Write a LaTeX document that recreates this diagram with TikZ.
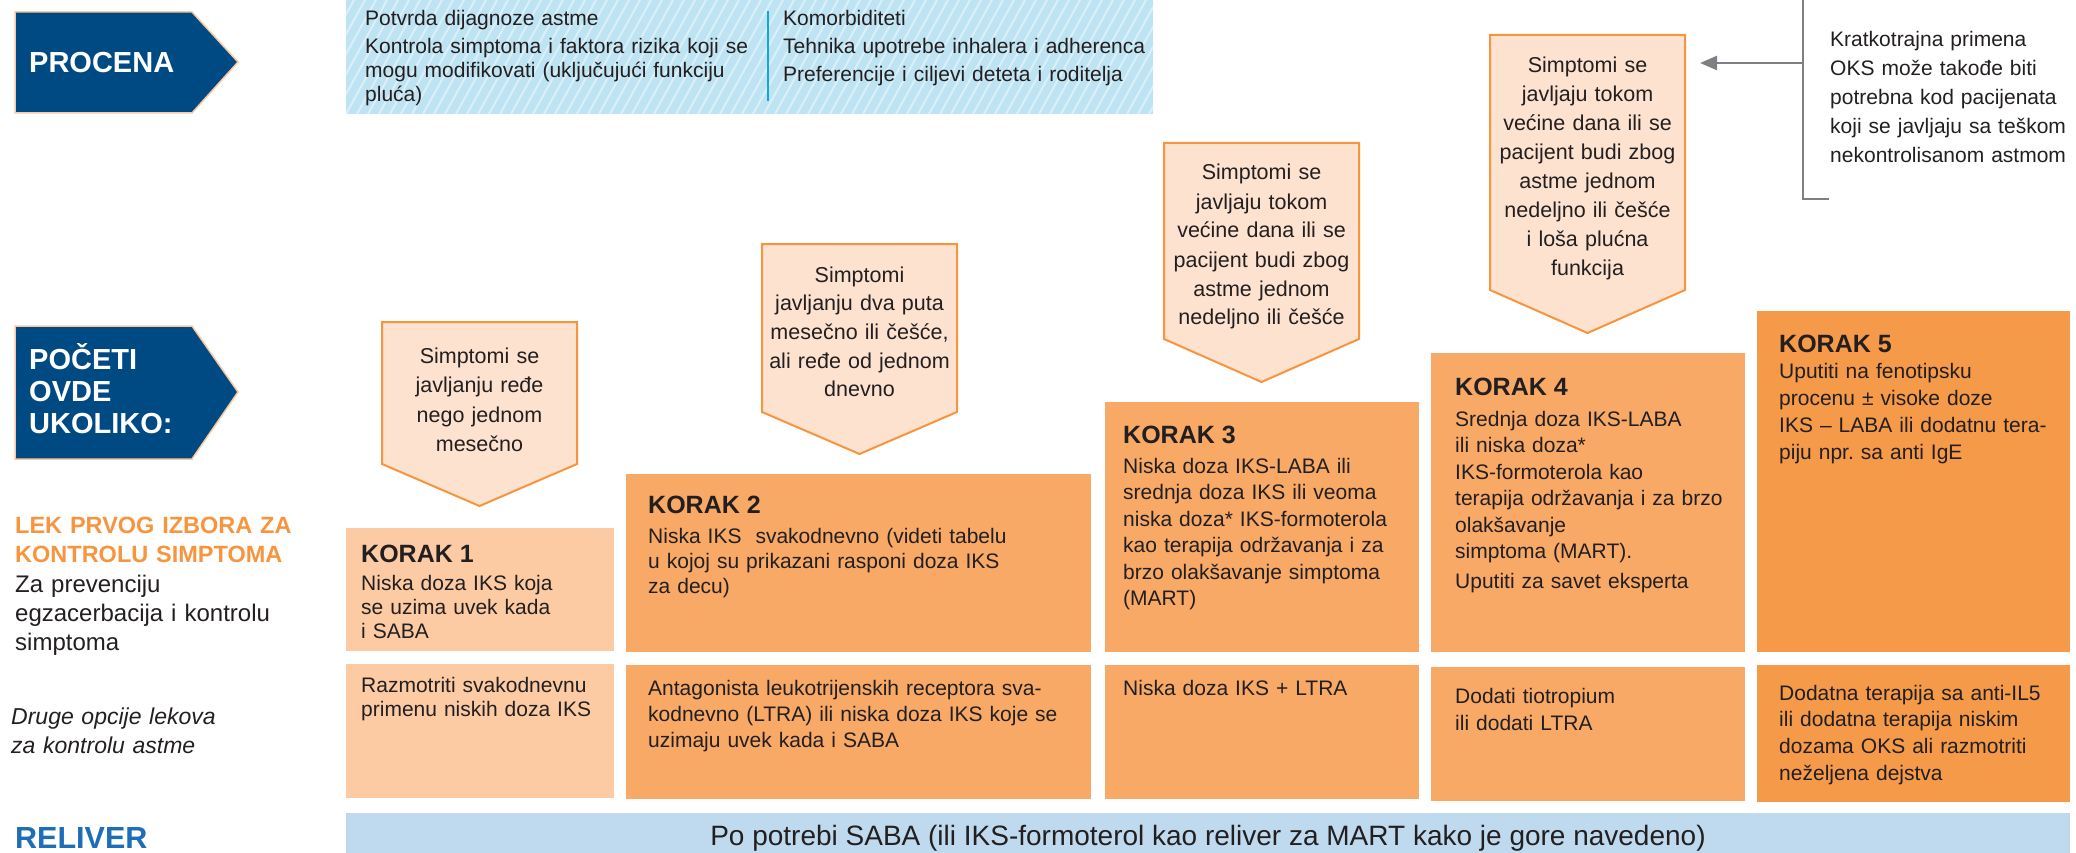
\documentclass[tikz,border=0pt]{standalone}
\usepackage{fontspec}
\setmainfont{Liberation Sans}
\usetikzlibrary{arrows.meta}
\frenchspacing

\definecolor{ink}{HTML}{231F20}
\definecolor{navy}{HTML}{004A84}
\definecolor{navyedge}{HTML}{FBC9A0}
\definecolor{condfill}{HTML}{FDE2D0}
\definecolor{condedge}{HTML}{F7943D}
\definecolor{steplight}{HTML}{FCCBA3}
\definecolor{stepmid}{HTML}{F8A966}
\definecolor{stepdark}{HTML}{F59A48}
\definecolor{assessblue}{HTML}{BEE3F3}
\definecolor{divider}{HTML}{1AA3D8}
\definecolor{relbar}{HTML}{BFDAEF}
\definecolor{relblue}{HTML}{1D6EB6}
\definecolor{lekorange}{HTML}{F7953F}
\definecolor{bracketgray}{HTML}{7E8083}

\newcommand{\stephead}{\fontsize{25}{30}\bfseries\selectfont}

\begin{document}
\begin{tikzpicture}[x=1pt,y=-1pt,
  banner/.style={fill=navy,draw=navyedge,line width=1.5pt,line join=miter},
  bannertxt/.style={anchor=base west,inner sep=0pt,text width=220pt,align=left,
    text=white,font=\fontsize{29}{32}\bfseries\selectfont},
  condbox/.style={fill=condfill,draw=condedge,line width=2pt,line join=miter},
  condtxt/.style={anchor=base,inner sep=0pt,text width=190pt,align=center,
    text=ink,font=\fontsize{21.5}{#1}\selectfont},
  condtxt/.default=29,
  body/.style={anchor=base west,inner sep=0pt,text width=600pt,align=left,
    text=ink,font=\fontsize{21}{#1}\selectfont},
  body/.default=24,
  stripe/.style={white,opacity=0.45,line width=2pt},
  bracketline/.style={draw=bracketgray,line width=2.5pt},
]
\useasboundingbox (0,0) rectangle (2076,853);

% ---------- assessment banner and box ----------
\path[banner] (15,12) -- (192,12) -- (238,62) -- (192,113) -- (15,113) -- cycle;
\node[bannertxt] (procena) at (29,73) {PROCENA};

\fill[assessblue] (346,0) rectangle (1153,114);
\begin{scope}
  \clip (346,0) rectangle (1153,114);
  \foreach \i in {0,...,84} {
    \draw[stripe] ({280+\i*11},114) -- ++(63,-114);
  }
\end{scope}
\draw[divider,line width=2.5pt] (768,11) -- (768,101);
\node[body] (assessL) at (365,26)
  {Potvrda dijagnoze astme\\[4pt]
   Kontrola simptoma i faktora rizika koji se\\
   mogu modifikovati (uključujući funkciju\\
   pluća)};
\node[body=28] (assessR) at (783,26)
  {Komorbiditeti\\
   Tehnika upotrebe inhalera i adherenca\\
   Preferencije i ciljevi deteta i roditelja};

% ---------- start banner ----------
\path[banner] (15,326) -- (192,326) -- (238,392) -- (192,459) -- (15,459) -- cycle;
\node[bannertxt] (poceti) at (29,369.5) {POČETI\\ OVDE\\ UKOLIKO:};

% ---------- symptom criteria ----------
\path[condbox] (382,322) -- (577,322) -- (577,464) -- (479.5,506) -- (382,464) -- cycle;
\node[condtxt=29.5] (cond1) at (479.5,363)
  {Simptomi se\\ javljanju ređe\\ nego jednom\\ mesečno};

\path[condbox] (762,244) -- (957,244) -- (957,412) -- (859.5,454) -- (762,412) -- cycle;
\node[condtxt=28.7] (cond2) at (859.5,282)
  {Simptomi\\ javljanju dva puta\\ mesečno ili češće,\\ ali ređe od jednom\\ dnevno};

\path[condbox] (1164,143) -- (1359,143) -- (1359,339) -- (1261.5,382) -- (1164,339) -- cycle;
\node[condtxt] (cond3) at (1261.5,180)
  {Simptomi se\\ javljaju tokom\\ većine dana ili se\\ pacijent budi zbog\\ astme jednom\\ nedeljno ili češće};

\path[condbox] (1490,35) -- (1685,35) -- (1685,290) -- (1587.5,333) -- (1490,290) -- cycle;
\node[condtxt] (cond4) at (1587.5,73)
  {Simptomi se\\ javljaju tokom\\ većine dana ili se\\ pacijent budi zbog\\ astme jednom\\ nedeljno ili češće\\ i loša plućna\\ funkcija};

% ---------- oral steroid note with bracket ----------
\coordinate (brtop) at (1803,0);
\coordinate (brmid) at (1803,63);
\coordinate (brbot) at (1803,199);
\coordinate (brend) at (1829,199);
\coordinate (cond4tip) at (1700,63);
\draw[bracketline] (brtop) -- (brbot) -- (brend);
\draw[bracketline,-{Triangle[length=17pt,width=14pt]}] (brmid) -- (cond4tip);
\node[body=29] (oksnote) at (1830,47)
  {Kratkotrajna primena\\ OKS može takođe biti\\ potrebna kod pacijenata\\
   koji se javljaju sa teškom\\ nekontrolisanom astmom};

% ---------- treatment steps ----------
\fill[steplight] (346,528) rectangle (614,651);
\fill[stepmid]   (626,474) rectangle (1091,652);
\fill[stepmid]   (1105,402) rectangle (1419,652);
\fill[stepmid]   (1431,353) rectangle (1745,652);
\fill[stepdark]  (1757,311) rectangle (2070,652);

\node[body=24] (step1) at (361,562)
  {{\stephead KORAK 1}\\[4pt]
   Niska doza IKS koja\\ se uzima uvek kada\\ i SABA};
\node[body=25] (step2) at (648,513)
  {{\stephead KORAK 2}\\[5pt]
   Niska IKS\ \ svakodnevno (videti tabelu\\
   u kojoj su prikazani rasponi doza IKS\\ za decu)};
\node[body=26.5] (step3) at (1123,443)
  {{\stephead KORAK 3}\\[3.5pt]
   Niska doza IKS-LABA ili\\ srednja doza IKS ili veoma\\
   niska doza* IKS-formoterola\\ kao terapija održavanja i za\\
   brzo olakšavanje simptoma\\ (MART)};
\node[body=26.5] (step4) at (1455,395)
  {{\stephead KORAK 4}\\[4.5pt]
   Srednja doza IKS-LABA\\ ili niska doza*\\ IKS-formoterola kao\\
   terapija održavanja i za brzo\\ olakšavanje\\ simptoma (MART).\\[3.5pt]
   Uputiti za savet eksperta};
\node[body=27] (step5) at (1779,352)
  {{\stephead KORAK 5}\\[-1pt]
   Uputiti na fenotipsku\\ procenu ± visoke doze\\
   IKS – LABA ili dodatnu tera-\\ piju npr. sa anti IgE};

% ---------- other controller options ----------
\fill[steplight] (346,664) rectangle (614,798);
\fill[stepmid]   (626,665) rectangle (1091,799);
\fill[stepmid]   (1105,665) rectangle (1419,799);
\fill[stepmid]   (1431,667) rectangle (1745,801);
\fill[stepdark]  (1757,665) rectangle (2070,802);

\node[body=24] (alt1) at (361,692)
  {Razmotriti svakodnevnu\\ primenu niskih doza IKS};
\node[body=26] (alt2) at (648,695)
  {Antagonista leukotrijenskih receptora sva-\\
   kodnevno (LTRA) ili niska doza IKS koje se\\ uzimaju uvek kada i SABA};
\node[body] (alt3) at (1123,695) {Niska doza IKS + LTRA};
\node[body=27] (alt4) at (1455,703) {Dodati tiotropium\\ ili dodati LTRA};
\node[body=26.7] (alt5) at (1779,700)
  {Dodatna terapija sa anti-IL5\\ ili dodatna terapija niskim\\
   dozama OKS ali razmotriti\\ neželjena dejstva};

% ---------- reliever ----------
\fill[relbar] (346,813) rectangle (2070,853);
\node[anchor=base,inner sep=0pt,text=ink,font=\fontsize{28}{30}\selectfont] (reliever)
  at (1208,845) {Po potrebi SABA (ili IKS-formoterol kao reliver za MART kako je gore navedeno)};

% ---------- row labels ----------
\node[anchor=base west,inner sep=0pt,text width=400pt,align=left,text=lekorange,
  font=\fontsize{23.5}{29}\bfseries\selectfont] (lek) at (15,533)
  {LEK PRVOG IZBORA ZA\\ KONTROLU SIMPTOMA};
\node[anchor=base west,inner sep=0pt,text width=400pt,align=left,text=ink,
  font=\fontsize{24}{29}\selectfont] (prev) at (15,592)
  {Za prevenciju\\ egzacerbacija i kontrolu\\ simptoma};
\node[anchor=base west,inner sep=0pt,text width=400pt,align=left,text=ink,
  font=\fontsize{23}{29}\itshape\selectfont] (druge) at (11,724)
  {Druge opcije lekova\\ za kontrolu astme};
\node[anchor=base west,inner sep=0pt,text=relblue,
  font=\fontsize{30.5}{32}\bfseries\selectfont] (reliverlbl) at (15,848) {RELIVER};
\end{tikzpicture}
\end{document}
